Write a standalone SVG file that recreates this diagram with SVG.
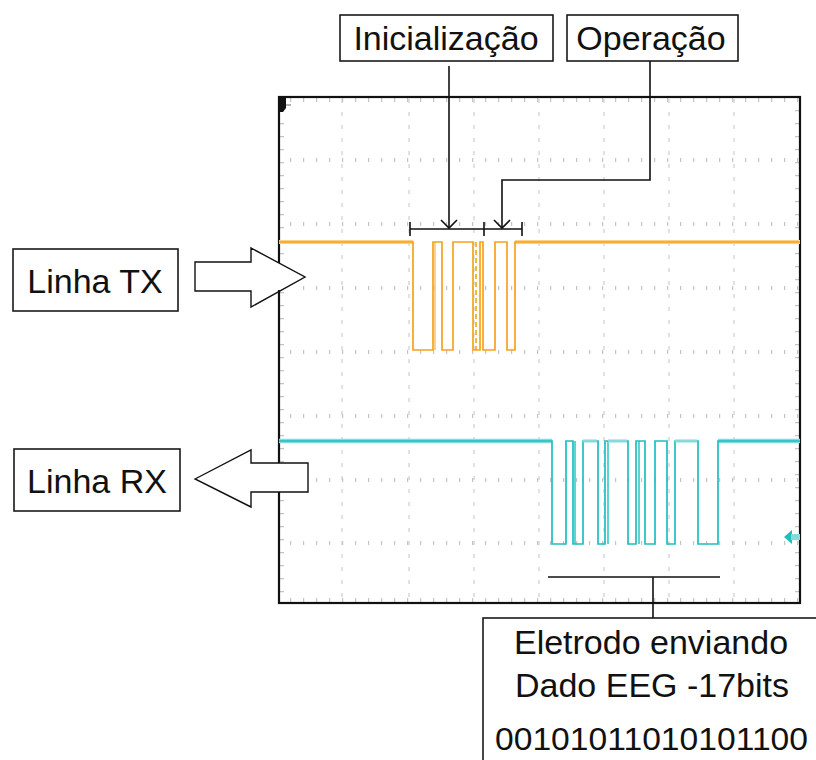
<svg xmlns="http://www.w3.org/2000/svg" width="816" height="760" viewBox="0 0 816 760">
  <style>
    .lbl { font-family: "Liberation Sans", Arial, sans-serif; fill: #111; }
    .box { fill: #fff; stroke: #1a1a1a; stroke-width: 1.6; }
    .conn { fill: none; stroke: #111; stroke-width: 1.6; }
    .vgrid { stroke: #c4c4c4; stroke-width: 1; stroke-dasharray: 4 9; }
    .hgrid { stroke: #c4c4c4; stroke-width: 4; stroke-dasharray: 1.2 11.8; }
    .blockarrow { fill: none; stroke: #111; stroke-width: 1.4; }
    .tx { fill: none; stroke: #f6a31e; stroke-width: 1.7; }
    .txband { fill: none; stroke: #ffcf86; stroke-width: 4; }
    .rx { fill: none; stroke: #1fbfbf; stroke-width: 1.7; }
    .rxband { fill: none; stroke: #86dada; stroke-width: 4.5; }
  </style>
  <defs>
    <marker id="openArrow" viewBox="-10 -10 20 20" markerWidth="20" markerHeight="20" refX="0" refY="0" orient="auto" markerUnits="userSpaceOnUse">
      <path d="M-8,-8 L0,0 L-8,8" fill="none" stroke="#111" stroke-width="1.6"/>
    </marker>
  </defs>

  <rect width="816" height="760" fill="#fff"/>

  <!-- oscilloscope screen: graticule and frame -->
  <g id="scope">
    <g id="graticule">
      <line class="vgrid" x1="342" y1="99" x2="342" y2="602"/>
      <line class="vgrid" x1="409" y1="99" x2="409" y2="602"/>
      <line class="vgrid" x1="474" y1="99" x2="474" y2="602"/>
      <line class="vgrid" x1="539" y1="99" x2="539" y2="602"/>
      <line class="vgrid" x1="604" y1="99" x2="604" y2="602"/>
      <line class="vgrid" x1="669" y1="99" x2="669" y2="602"/>
      <line class="vgrid" x1="734" y1="99" x2="734" y2="602"/>
      <line class="hgrid" x1="290" y1="160" x2="800" y2="160"/>
      <line class="hgrid" x1="290" y1="224" x2="800" y2="224"/>
      <line class="hgrid" x1="290" y1="288" x2="800" y2="288"/>
      <line class="hgrid" x1="290" y1="352" x2="800" y2="352"/>
      <line class="hgrid" x1="290" y1="416" x2="800" y2="416"/>
      <line class="hgrid" x1="290" y1="480" x2="800" y2="480"/>
      <line class="hgrid" x1="290" y1="543" x2="800" y2="543"/>
      <!-- edge ticks -->
      <line class="hgrid" x1="290" y1="100" x2="800" y2="100"/>
      <line class="hgrid" x1="290" y1="600" x2="800" y2="600"/>
      <line stroke="#c4c4c4" stroke-width="4" stroke-dasharray="1.2 11.8" x1="282" y1="110" x2="282" y2="602"/>
      <line stroke="#c4c4c4" stroke-width="4" stroke-dasharray="1.2 11.8" x1="797" y1="110" x2="797" y2="602"/>
    </g>
    <rect x="279" y="97" width="521" height="506" fill="none" stroke="#111" stroke-width="2.2"/>
    <!-- trigger position marker -->
    <path d="M280,98 H286 V108 L283,112 H280 Z" fill="#111"/>
    <line x1="286" y1="105" x2="291" y2="105" stroke="#999" stroke-width="1.5"/>
    <!-- CH2 level marker -->
    <path d="M784,537 L792,530 V544 Z" fill="#1fbfbf"/>
    <rect x="791" y="534" width="9" height="6" fill="#86dada"/>
  </g>

  <!-- channel traces -->
  <g id="traces">
    <path class="txband" d="M279,242 H413 M515,242 H800"/>
    <path class="tx" d="M279,242 H413 V350 H433 V242 H442 V350 H453 V242 H473 V350 H480 V242 H483 V350 H495 V242 H507 V350 H515 V242 H800"/>
    <line x1="476" y1="242" x2="476" y2="350" stroke="#f6a31e" stroke-width="1.6" stroke-dasharray="5 3"/>
    <line x1="435" y1="242" x2="435" y2="350" stroke="#f6a31e" stroke-width="1"/>

    <path class="rxband" d="M279,441 H552 M718,441 H800"/>
    <path class="rx" d="M279,441 H552 V544 H566 V441 H573 V544 H583 V441 H598 V544 H605 V441 H628 V544 H636 V441 H645 V544 H655 V441 H667 V544 H675 V441 H698 V544 H718 V441 H800"/>
    <line x1="575" y1="441" x2="575" y2="544" stroke="#1fbfbf" stroke-width="1.4"/>
    <line x1="608" y1="441" x2="608" y2="544" stroke="#1fbfbf" stroke-width="1.4"/>
    <line x1="639" y1="441" x2="639" y2="544" stroke="#1fbfbf" stroke-width="1.4"/>
    <path d="M583,441 H597 M608,441 H627 M675,441 H697" stroke="#86dada" stroke-width="3" fill="none"/>
  </g>

  <!-- labels -->
  <g id="inicializacao">
    <rect class="box" x="340" y="15" width="213" height="46"/>
    <text class="lbl" x="446" y="50" font-size="34" text-anchor="middle">Inicialização</text>
  </g>
  <g id="operacao">
    <rect class="box" x="567" y="15" width="171" height="46"/>
    <text class="lbl" x="651" y="50" font-size="34" text-anchor="middle">Operação</text>
  </g>
  <g id="linha-tx">
    <rect class="box" x="13" y="249" width="165" height="62"/>
    <text class="lbl" x="95" y="293" font-size="34" text-anchor="middle">Linha TX</text>
  </g>
  <g id="linha-rx">
    <rect class="box" x="14" y="449" width="166" height="62"/>
    <text class="lbl" x="97" y="493" font-size="34" text-anchor="middle">Linha RX</text>
  </g>
  <g id="eletrodo">
    <rect class="box" x="483" y="618" width="345" height="160"/>
    <text class="lbl" x="651" y="654" font-size="34" text-anchor="middle">Eletrodo enviando</text>
    <text class="lbl" x="652" y="697" font-size="34" text-anchor="middle">Dado EEG -17bits</text>
    <text class="lbl" x="495" y="750" font-size="32" textLength="313" lengthAdjust="spacingAndGlyphs">00101011010101100</text>
  </g>

  <!-- direction arrows -->
  <g id="tx-arrow">
    <rect x="196" y="263" width="100" height="27" fill="#fff"/>
    <polygon class="blockarrow" points="195,262 251,262 251,248 305,277 251,307 251,291 195,291"/>
  </g>
  <g id="rx-arrow">
    <polygon class="blockarrow" fill="#fff" style="fill:#fff" points="195,479 251,450 251,463 308,463 308,492 251,492 251,507"/>
  </g>

  <!-- connectors -->
  <g id="connectors">
    <path class="conn" d="M410,229 H522 M410,222 V236 M484,222 V236 M522,222 V236"/>
    <path class="conn" d="M449,66 V228" marker-end="url(#openArrow)"/>
    <path class="conn" d="M650,61 V180 H502 V228" marker-end="url(#openArrow)"/>
    <path class="conn" d="M548,577 H720 M653,577 V618"/>
  </g>
</svg>
